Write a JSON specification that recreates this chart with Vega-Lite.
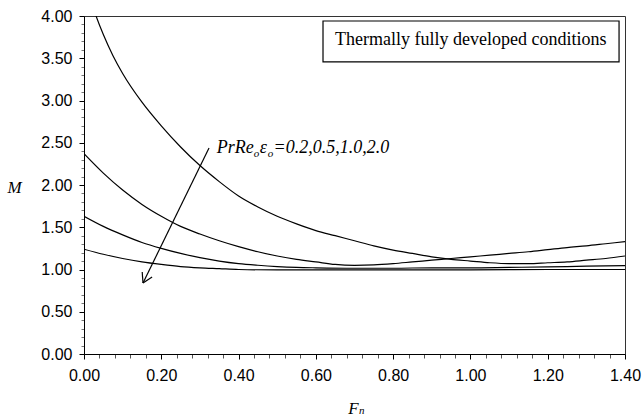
{
  "$schema": "https://vega.github.io/schema/vega-lite/v6.json",
  "width": 541,
  "height": 338,
  "autosize": "none",
  "padding": {"left": 84, "top": 16, "right": 19, "bottom": 62},
  "background": "white",
  "config": {
    "view": {"stroke": "#333", "strokeWidth": 1}
  },
  "datasets": {
    "curves": [
      {"s": "2.0", "Fn": 0, "M": 4.45}, {"s": "2.0", "Fn": 0.025, "M": 4.08}, {"s": "2.0", "Fn": 0.05, "M": 3.78}, {"s": "2.0", "Fn": 0.075, "M": 3.53},
      {"s": "2.0", "Fn": 0.1, "M": 3.32}, {"s": "2.0", "Fn": 0.15, "M": 2.98}, {"s": "2.0", "Fn": 0.2, "M": 2.70}, {"s": "2.0", "Fn": 0.25, "M": 2.45},
      {"s": "2.0", "Fn": 0.3, "M": 2.23}, {"s": "2.0", "Fn": 0.35, "M": 2.04}, {"s": "2.0", "Fn": 0.4, "M": 1.87}, {"s": "2.0", "Fn": 0.45, "M": 1.74},
      {"s": "2.0", "Fn": 0.5, "M": 1.63}, {"s": "2.0", "Fn": 0.55, "M": 1.54}, {"s": "2.0", "Fn": 0.6, "M": 1.46}, {"s": "2.0", "Fn": 0.65, "M": 1.40},
      {"s": "2.0", "Fn": 0.7, "M": 1.34}, {"s": "2.0", "Fn": 0.75, "M": 1.28}, {"s": "2.0", "Fn": 0.8, "M": 1.23}, {"s": "2.0", "Fn": 0.85, "M": 1.19},
      {"s": "2.0", "Fn": 0.9, "M": 1.15}, {"s": "2.0", "Fn": 0.95, "M": 1.12}, {"s": "2.0", "Fn": 1.0, "M": 1.10}, {"s": "2.0", "Fn": 1.05, "M": 1.08},
      {"s": "2.0", "Fn": 1.1, "M": 1.07}, {"s": "2.0", "Fn": 1.15, "M": 1.07}, {"s": "2.0", "Fn": 1.2, "M": 1.08}, {"s": "2.0", "Fn": 1.25, "M": 1.09},
      {"s": "2.0", "Fn": 1.3, "M": 1.11}, {"s": "2.0", "Fn": 1.35, "M": 1.13}, {"s": "2.0", "Fn": 1.4, "M": 1.16},
      {"s": "1.0", "Fn": 0, "M": 2.37}, {"s": "1.0", "Fn": 0.05, "M": 2.14}, {"s": "1.0", "Fn": 0.1, "M": 1.94}, {"s": "1.0", "Fn": 0.15, "M": 1.77},
      {"s": "1.0", "Fn": 0.2, "M": 1.63}, {"s": "1.0", "Fn": 0.25, "M": 1.51}, {"s": "1.0", "Fn": 0.3, "M": 1.42}, {"s": "1.0", "Fn": 0.35, "M": 1.34},
      {"s": "1.0", "Fn": 0.4, "M": 1.27}, {"s": "1.0", "Fn": 0.45, "M": 1.21}, {"s": "1.0", "Fn": 0.5, "M": 1.16}, {"s": "1.0", "Fn": 0.55, "M": 1.12},
      {"s": "1.0", "Fn": 0.6, "M": 1.09}, {"s": "1.0", "Fn": 0.65, "M": 1.06}, {"s": "1.0", "Fn": 0.7, "M": 1.05}, {"s": "1.0", "Fn": 0.75, "M": 1.055},
      {"s": "1.0", "Fn": 0.8, "M": 1.07}, {"s": "1.0", "Fn": 0.85, "M": 1.09}, {"s": "1.0", "Fn": 0.9, "M": 1.11}, {"s": "1.0", "Fn": 0.95, "M": 1.13},
      {"s": "1.0", "Fn": 1.0, "M": 1.15}, {"s": "1.0", "Fn": 1.05, "M": 1.17}, {"s": "1.0", "Fn": 1.1, "M": 1.19}, {"s": "1.0", "Fn": 1.15, "M": 1.21},
      {"s": "1.0", "Fn": 1.2, "M": 1.235}, {"s": "1.0", "Fn": 1.25, "M": 1.26}, {"s": "1.0", "Fn": 1.3, "M": 1.28}, {"s": "1.0", "Fn": 1.35, "M": 1.305},
      {"s": "1.0", "Fn": 1.4, "M": 1.33},
      {"s": "0.5", "Fn": 0, "M": 1.63}, {"s": "0.5", "Fn": 0.05, "M": 1.51}, {"s": "0.5", "Fn": 0.1, "M": 1.41}, {"s": "0.5", "Fn": 0.15, "M": 1.32},
      {"s": "0.5", "Fn": 0.2, "M": 1.25}, {"s": "0.5", "Fn": 0.25, "M": 1.19}, {"s": "0.5", "Fn": 0.3, "M": 1.14}, {"s": "0.5", "Fn": 0.35, "M": 1.10},
      {"s": "0.5", "Fn": 0.4, "M": 1.07}, {"s": "0.5", "Fn": 0.45, "M": 1.05}, {"s": "0.5", "Fn": 0.5, "M": 1.035}, {"s": "0.5", "Fn": 0.55, "M": 1.025},
      {"s": "0.5", "Fn": 0.6, "M": 1.02}, {"s": "0.5", "Fn": 0.7, "M": 1.015}, {"s": "0.5", "Fn": 0.8, "M": 1.015}, {"s": "0.5", "Fn": 0.9, "M": 1.02},
      {"s": "0.5", "Fn": 1.0, "M": 1.02}, {"s": "0.5", "Fn": 1.1, "M": 1.025}, {"s": "0.5", "Fn": 1.2, "M": 1.03}, {"s": "0.5", "Fn": 1.3, "M": 1.04},
      {"s": "0.5", "Fn": 1.4, "M": 1.045},
      {"s": "0.2", "Fn": 0, "M": 1.24}, {"s": "0.2", "Fn": 0.05, "M": 1.18}, {"s": "0.2", "Fn": 0.1, "M": 1.13}, {"s": "0.2", "Fn": 0.15, "M": 1.09},
      {"s": "0.2", "Fn": 0.2, "M": 1.06}, {"s": "0.2", "Fn": 0.25, "M": 1.035}, {"s": "0.2", "Fn": 0.3, "M": 1.02}, {"s": "0.2", "Fn": 0.35, "M": 1.01},
      {"s": "0.2", "Fn": 0.4, "M": 1.0}, {"s": "0.2", "Fn": 0.5, "M": 0.995}, {"s": "0.2", "Fn": 0.6, "M": 0.995}, {"s": "0.2", "Fn": 0.8, "M": 0.995},
      {"s": "0.2", "Fn": 1.0, "M": 0.995}, {"s": "0.2", "Fn": 1.2, "M": 1.0}, {"s": "0.2", "Fn": 1.4, "M": 1.0}
    ],
    "arrow": [
      {"Fn": 0.3235, "M": 2.438, "Fn2": 0.1527, "M2": 0.840},
      {"Fn": 0.1527, "M": 0.840, "Fn2": 0.1762, "M2": 0.912},
      {"Fn": 0.1527, "M": 0.840, "Fn2": 0.1506, "M2": 0.970}
    ],
    "box": [{"Fn": 0.6185, "M": 3.941, "Fn2": 1.3846, "M2": 3.456}],
    "boxtext": [{"Fn": 1.001, "M": 3.657, "label": "Thermally fully developed conditions"}],
    "anno": [
      {"Fn": 0.3434, "M": 2.382, "label": "PrRe"},
      {"Fn": 0.4547, "M": 2.382, "label": "ε"},
      {"Fn": 0.4907, "M": 2.382, "label": "=0.2,0.5,1.0,2.0"}
    ],
    "annosub": [
      {"Fn": 0.4392, "M": 2.335, "label": "o"},
      {"Fn": 0.4752, "M": 2.335, "label": "o"},
      {"Fn": 0.7117, "M": -0.705, "label": "n"}
    ]
  },
  "layer": [
    {
      "data": {"name": "curves"},
      "mark": {"type": "line", "clip": true, "color": "black", "strokeWidth": 1.2, "interpolate": "monotone"},
      "encoding": {
        "x": {
          "field": "Fn", "type": "quantitative",
          "scale": {"domain": [0, 1.4], "nice": false, "zero": false},
          "axis": {
            "title": "F",
            "titleFont": "Liberation Serif", "titleFontStyle": "italic", "titleFontWeight": "normal", "titleFontSize": 17, "titleColor": "black",
            "titleX": 269, "titleY": 59, "titleAlign": "center", "titleBaseline": "alphabetic",
            "tickCount": 200,
            "values": [0, 0.04, 0.08, 0.12, 0.16, 0.2, 0.24, 0.28, 0.32, 0.36, 0.4, 0.44, 0.48, 0.52, 0.56, 0.6, 0.64, 0.68, 0.72, 0.76, 0.8, 0.84, 0.88, 0.92, 0.96, 1.0, 1.04, 1.08, 1.12, 1.16, 1.2, 1.24, 1.28, 1.32, 1.36, 1.4],
            "labelExpr": "abs(datum.value*5 - round(datum.value*5)) < 0.001 ? format(datum.value, '.2f') : ''",
            "labelFont": "Liberation Sans", "labelFontSize": 16, "labelColor": "black",
            "labelOverlap": false, "labelFlush": false, "labelPadding": 8,
            "grid": false, "domainColor": "black", "domainWidth": 1,
            "tickColor": {"condition": {"test": "abs(datum.value*5 - round(datum.value*5)) < 0.001", "value": "black"}, "value": "#555"},
            "tickSize": {"condition": {"test": "abs(datum.value*5 - round(datum.value*5)) < 0.001", "value": 5}, "value": 4}
          }
        },
        "y": {
          "field": "M", "type": "quantitative",
          "scale": {"domain": [0, 4], "nice": false, "zero": false},
          "axis": {
            "title": "M",
            "titleFont": "Liberation Serif", "titleFontStyle": "italic", "titleFontWeight": "normal", "titleFontSize": 17, "titleColor": "black",
            "titleAngle": 0, "titleX": -70, "titleY": 171, "titleAlign": "center", "titleBaseline": "middle",
            "tickCount": 200,
            "values": [0, 0.1, 0.2, 0.3, 0.4, 0.5, 0.6, 0.7, 0.8, 0.9, 1.0, 1.1, 1.2, 1.3, 1.4, 1.5, 1.6, 1.7, 1.8, 1.9, 2.0, 2.1, 2.2, 2.3, 2.4, 2.5, 2.6, 2.7, 2.8, 2.9, 3.0, 3.1, 3.2, 3.3, 3.4, 3.5, 3.6, 3.7, 3.8, 3.9, 4.0],
            "labelExpr": "abs(datum.value*2 - round(datum.value*2)) < 0.001 ? format(datum.value, '.2f') : ''",
            "labelFont": "Liberation Sans", "labelFontSize": 16, "labelColor": "black",
            "labelOverlap": false, "labelFlush": false, "labelPadding": 7,
            "grid": false, "domainColor": "black", "domainWidth": 1,
            "tickColor": {"condition": {"test": "abs(datum.value*2 - round(datum.value*2)) < 0.001", "value": "black"}, "value": "#777"},
            "tickSize": {"condition": {"test": "abs(datum.value*2 - round(datum.value*2)) < 0.001", "value": 5}, "value": 3}
          }
        },
        "detail": {"field": "s", "type": "nominal"}
      }
    },
    {
      "data": {"name": "arrow"},
      "mark": {"type": "rule", "color": "black", "strokeWidth": 1.2},
      "encoding": {
        "x": {"field": "Fn", "type": "quantitative"},
        "y": {"field": "M", "type": "quantitative"},
        "x2": {"field": "Fn2"},
        "y2": {"field": "M2"}
      }
    },
    {
      "data": {"name": "box"},
      "mark": {"type": "rect", "fill": "white", "stroke": "black", "strokeWidth": 1.2},
      "encoding": {
        "x": {"field": "Fn", "type": "quantitative"},
        "y": {"field": "M", "type": "quantitative"},
        "x2": {"field": "Fn2"},
        "y2": {"field": "M2"}
      }
    },
    {
      "data": {"name": "boxtext"},
      "mark": {"type": "text", "font": "Liberation Serif", "fontSize": 18, "align": "center", "baseline": "alphabetic", "color": "black"},
      "encoding": {
        "x": {"field": "Fn", "type": "quantitative"},
        "y": {"field": "M", "type": "quantitative"},
        "text": {"field": "label"}
      }
    },
    {
      "data": {"name": "anno"},
      "mark": {"type": "text", "font": "Liberation Serif", "fontStyle": "italic", "fontSize": 18, "align": "left", "baseline": "alphabetic", "color": "black"},
      "encoding": {
        "x": {"field": "Fn", "type": "quantitative"},
        "y": {"field": "M", "type": "quantitative"},
        "text": {"field": "label"}
      }
    },
    {
      "data": {"name": "annosub"},
      "mark": {"type": "text", "font": "Liberation Serif", "fontStyle": "italic", "fontSize": 11, "align": "left", "baseline": "alphabetic", "color": "black"},
      "encoding": {
        "x": {"field": "Fn", "type": "quantitative"},
        "y": {"field": "M", "type": "quantitative"},
        "text": {"field": "label"}
      }
    }
  ]
}
